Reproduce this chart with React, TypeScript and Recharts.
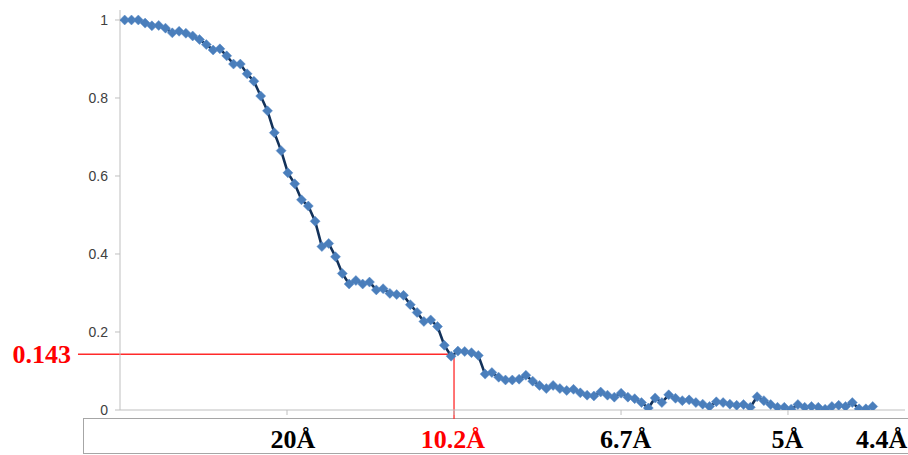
import React from 'react';
import { LineChart, Line, XAxis, YAxis, ReferenceLine } from 'recharts';

// FSC value per shell
const fscValues = [
  1.0, 1.0, 1.0, 0.992, 0.985, 0.986, 0.979, 0.967, 0.971, 0.966,
  0.959, 0.95, 0.937, 0.923, 0.926, 0.908, 0.887, 0.887, 0.862, 0.843,
  0.805, 0.767, 0.711, 0.665, 0.608, 0.58, 0.539, 0.523, 0.484, 0.419,
  0.427, 0.393, 0.35, 0.323, 0.332, 0.323, 0.328, 0.308, 0.311, 0.299,
  0.296, 0.294, 0.27, 0.25, 0.227, 0.231, 0.214, 0.166, 0.138, 0.151,
  0.15, 0.147, 0.14, 0.092, 0.096, 0.084, 0.077, 0.077, 0.079, 0.089,
  0.074, 0.063, 0.055, 0.063, 0.055, 0.05, 0.053, 0.044, 0.038, 0.036,
  0.046, 0.038, 0.033, 0.043, 0.033, 0.029, 0.019, 0.005, 0.031, 0.019,
  0.039, 0.03, 0.024, 0.026, 0.019, 0.015, 0.009, 0.021, 0.019, 0.015,
  0.012, 0.014, 0.007, 0.034, 0.024, 0.014, 0.007, 0.007, 0.002, 0.014,
  0.007, 0.009, 0.007, 0.002, 0.009, 0.012, 0.009, 0.019, 0.003, 0.003,
  0.009,
];

// axis ticks (in shell units) and the resolution labels under the axis
const shellTicks = [24.87, 49.43, 73.99, 98.54];
const resLabels = ['20Å', '10.2Å', '6.7Å', '5Å', '4.4Å'];
const resLabelShells = [25.75, 49.28, 74.65, 98.47, 112.32];
const resLabelColors = ['#000', '#ff0000', '#000', '#000', '#000'];
const yTicks = [0, 0.2, 0.4, 0.6, 0.8, 1];

const threshold = 0.143;
const cutoffShell = 49.43;

const data = fscValues.map((v, i) => ({ shell: i + 1, fsc: v }));

const Diamond = (props: any) => {
  const { cx, cy } = props;
  if (cx == null || cy == null) return null;
  const r = 5;
  return (
    <polygon
      points={`${cx},${cy - r} ${cx + r},${cy} ${cx},${cy + r} ${cx - r},${cy}`}
      fill="#4a7ebb"
      stroke="#5b8cc8"
      strokeWidth={0.5}
    />
  );
};

const ResTick = (props: any) => {
  const { x, y, index } = props;
  return (
    <text
      x={x}
      y={y + 30}
      textAnchor="middle"
      fill={resLabelColors[index]}
      style={{ fontFamily: '"Liberation Serif", "Times New Roman", serif', fontSize: 26, fontWeight: 'bold' }}
    >
      {resLabels[index]}
    </text>
  );
};

export default function App() {
  return (
    <div style={{ position: 'absolute', left: 0, top: 0, width: 908, height: 455, background: '#fff' }}>
      <div
        style={{
          position: 'absolute',
          left: 83,
          top: 418,
          width: 840,
          height: 36,
          border: '1px solid #a6a6a6',
          boxSizing: 'border-box',
        }}
      />
      <LineChart
        width={908}
        height={455}
        data={data}
        margin={{ top: 10, right: 3, bottom: 0, left: 0 }}
        style={{ position: 'absolute', left: 0, top: 0 }}
      >
        <XAxis
          dataKey="shell"
          type="number"
          domain={[0.309, 115.75]}
          ticks={shellTicks}
          tickFormatter={() => ''}
          height={8}
          tickSize={5}
          stroke="#bfbfbf"
          allowDataOverflow
        />
        <XAxis
          xAxisId="lbl"
          dataKey="shell"
          type="number"
          domain={[0.309, 115.75]}
          ticks={resLabelShells}
          tick={<ResTick />}
          height={37}
          tickSize={0}
          tickMargin={0}
          axisLine={false}
          tickLine={false}
          allowDataOverflow
        />
        <YAxis
          type="number"
          domain={[0, 1.0256]}
          ticks={yTicks}
          width={120}
          tickSize={5}
          tickMargin={7}
          stroke="#bfbfbf"
          tick={{ fill: '#404040', fontSize: 14, fontFamily: '"Liberation Sans", Arial, sans-serif' }}
          allowDataOverflow
        />
        <ReferenceLine
          segment={[{ x: -5.87, y: threshold }, { x: cutoffShell, y: threshold }]}
          stroke="#ff2a2a"
          strokeWidth={1.3}
          ifOverflow="visible"
          label={{
            value: '0.143',
            position: 'left',
            offset: 7,
            fill: '#ff0000',
            fontSize: 26,
            fontWeight: 'bold',
            fontFamily: '"Liberation Serif", "Times New Roman", serif',
          }}
        />
        <ReferenceLine
          segment={[{ x: cutoffShell, y: threshold }, { x: cutoffShell, y: -0.0231 }]}
          stroke="#ff2a2a"
          strokeWidth={1.3}
          ifOverflow="visible"
        />
        <Line
          type="linear"
          dataKey="fsc"
          stroke="#13325a"
          strokeWidth={2.6}
          dot={<Diamond />}
          activeDot={false}
          isAnimationActive={false}
        />
      </LineChart>
    </div>
  );
}
